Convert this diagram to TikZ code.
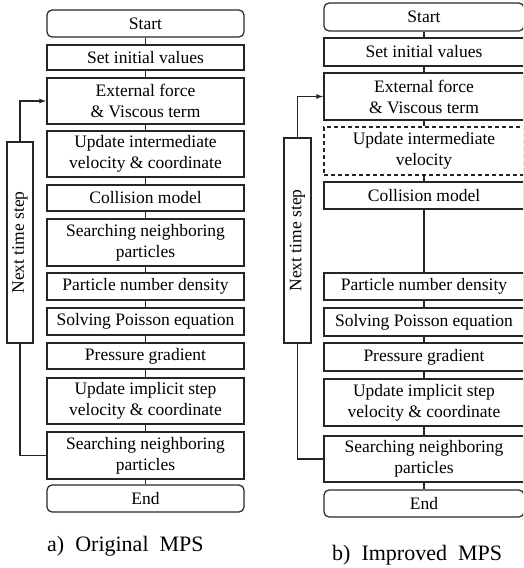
\documentclass[tikz,border=0pt]{standalone}
\usepackage{fontspec}
\setmainfont{Liberation Serif}
\usepackage{tikz}
\usetikzlibrary{arrows}
\usetikzlibrary{arrows.meta}
\tikzset{>={Latex[length=7pt, width=5pt]}}
\tikzstyle{stepbox} = [rectangle, draw=black!85, line width=1.2pt, inner sep=0, align=center, font=\fontsize{17.5}{21}\selectfont]
\tikzstyle{termbox} = [stepbox, rounded corners=5pt]
\tikzstyle{boxa} = [minimum width=197pt]
\tikzstyle{boxb} = [minimum width=200pt]
\tikzstyle{link} = [-, draw=black!85, line width=1.1pt]

\begin{document}
\begin{tikzpicture}[x=1pt, y=-1pt]
\clip (0,0) rectangle (523,568);
% a) original
\node [termbox, boxa, minimum height=27pt] (Sa) at (145.5, 23.5) {Start};
\node [stepbox, boxa, minimum height=25pt] (Va) at (145.5, 57.5) {Set initial values};
\node [stepbox, boxa, minimum height=46pt] (Ea) at (145.5, 101) {External force\\\& Viscous term};
\node [stepbox, boxa, minimum height=46pt] (Ua) at (145.5, 154) {Update intermediate\\velocity \& coordinate};
\node [stepbox, boxa, minimum height=26pt] (Ca) at (145.5, 198) {Collision model};
\node [stepbox, boxa, minimum height=47pt] (Na) at (145.5, 242.5) {Searching neighboring\\particles};
\node [stepbox, boxa, minimum height=27pt] (Da) at (145.5, 286.5) {Particle number density};
\node [stepbox, boxa, minimum height=27pt] (Pa) at (145.5, 321.5) {Solving Poisson equation};
\node [stepbox, boxa, minimum height=26pt] (Ga) at (145.5, 356) {Pressure gradient};
\node [stepbox, boxa, minimum height=46pt] (Ia) at (145.5, 401) {Update implicit step\\velocity \& coordinate};
\node [stepbox, boxa, minimum height=47pt] (Ra) at (145.5, 455.5) {Searching neighboring\\particles};
\node [termbox, boxa, minimum height=27pt] (Xa) at (145.5, 498.5) {End};
\node [stepbox, minimum width=201pt, minimum height=26pt, rotate=90] (Ta) at (20, 242.5) {Next time step};
\draw [link] (Sa) -- (Va);
\draw [link] (Va) -- (Ea);
\draw [link] (Ea) -- (Ua);
\draw [link] (Ua) -- (Ca);
\draw [link] (Ca) -- (Na);
\draw [link] (Na) -- (Da);
\draw [link] (Da) -- (Pa);
\draw [link] (Pa) -- (Ga);
\draw [link] (Ga) -- (Ia);
\draw [link] (Ia) -- (Ra);
\draw [link] (Ra) -- (Xa);
\draw [link, ->] (Ta.east) |- (Ea.west);
\draw [link] (Ta.west) |- (Ra.west);
\node [anchor=west, inner sep=0, font=\fontsize{22}{26}\selectfont] (La) at (47, 546) {a)\enspace Original\enspace MPS};
% b) improved
\node [termbox, boxb, minimum height=28pt] (Sb) at (424, 17) {Start};
\node [stepbox, boxb, minimum height=28pt] (Vb) at (424, 52) {Set initial values};
\node [stepbox, boxb, minimum height=47pt] (Eb) at (424, 96.5) {External force\\\& Viscous term};
\node [stepbox, boxb, dash pattern=on 4pt off 3pt, minimum height=48pt] (Ub) at (424, 151) {Update intermediate\\velocity};
\node [stepbox, boxb, minimum height=27pt] (Cb) at (424, 195.5) {Collision model};
\node [stepbox, boxb, minimum height=27pt] (Db) at (424, 286.5) {Particle number density};
\node [stepbox, boxb, minimum height=28pt] (Pb) at (424, 322) {Solving Poisson equation};
\node [stepbox, boxb, minimum height=28pt] (Gb) at (424, 357) {Pressure gradient};
\node [stepbox, boxb, minimum height=47pt] (Ib) at (424, 402.5) {Update implicit step\\velocity \& coordinate};
\node [stepbox, boxb, minimum height=46pt] (Rb) at (424, 459) {Searching neighboring\\particles};
\node [termbox, boxb, minimum height=27pt] (Xb) at (424, 503.5) {End};
\node [stepbox, minimum width=205pt, minimum height=27pt, rotate=90] (Tb) at (297.5, 240.5) {Next time step};
\draw [link] (Sb) -- (Vb);
\draw [link] (Vb) -- (Eb);
\draw [link] (Eb) -- (Ub);
\draw [link] (Ub) -- (Cb);
\draw [link] (Cb) -- (Db);
\draw [link] (Db) -- (Pb);
\draw [link] (Pb) -- (Gb);
\draw [link] (Gb) -- (Ib);
\draw [link] (Ib) -- (Rb);
\draw [link] (Rb) -- (Xb);
\draw [link, ->] (Tb.east) |- (Eb.west);
\draw [link] (Tb.west) |- (Rb.west);
\node [anchor=west, inner sep=0, font=\fontsize{22}{26}\selectfont] (Lb) at (332, 555) {b)\enspace Improved\enspace MPS};
\end{tikzpicture}
\end{document}
